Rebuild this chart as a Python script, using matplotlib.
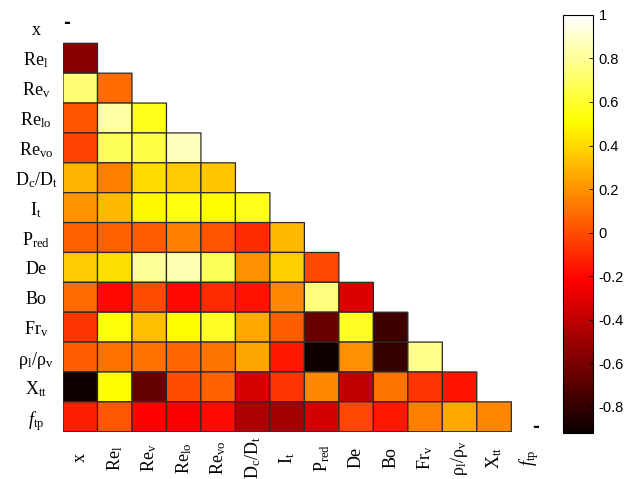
import numpy as np
import matplotlib
matplotlib.use("Agg")
import matplotlib.pyplot as plt
from matplotlib.ticker import FuncFormatter

plt.rcParams['axes.unicode_minus'] = False
plt.rcParams['mathtext.fontset'] = 'custom'
plt.rcParams['mathtext.rm'] = 'Liberation Serif'
plt.rcParams['mathtext.it'] = 'Liberation Serif:italic'
plt.rcParams['font.family'] = ['Liberation Serif', 'DejaVu Serif']

labels = ['x', r'Re$_\mathrm{l}$', r'Re$_\mathrm{v}$', r'Re$_\mathrm{lo}$', r'Re$_\mathrm{vo}$',
          r'D$_\mathrm{c}$/D$_\mathrm{t}$', r'I$_\mathrm{t}$', r'P$_\mathrm{red}$', 'De', 'Bo',
          r'Fr$_\mathrm{v}$', r'ρ$_\mathrm{l}$/ρ$_\mathrm{v}$', r'X$_\mathrm{tt}$', r'$\mathit{f}_\mathrm{tp}$']

# lower-triangle correlation values, row i has i entries (columns 0..i-1)
row_Re_l = [-0.56]
row_Re_v = [0.73, 0.09]
row_Re_lo = [0.02, 0.82, 0.56]
row_Re_vo = [-0.03, 0.68, 0.64, 0.87]
row_DcDt = [0.30, 0.15, 0.41, 0.36, 0.35]
row_It = [0.20, 0.31, 0.49, 0.54, 0.50, 0.56]
row_Pred = [0.06, 0.06, 0.04, 0.15, 0.02, -0.09, 0.31]
row_De = [0.36, 0.42, 0.80, 0.85, 0.68, 0.19, 0.37, -0.02]
row_Bo = [0.09, -0.20, 0.00, -0.20, -0.10, -0.17, 0.16, 0.75, -0.32]
row_Frv = [-0.07, 0.52, 0.33, 0.50, 0.58, 0.26, 0.04, -0.65, 0.58, -0.77]
row_rho = [0.04, 0.10, 0.10, 0.07, 0.11, 0.25, -0.15, -0.90, 0.19, -0.79, 0.77]
row_Xtt = [-0.90, 0.51, -0.66, 0.00, 0.06, -0.33, -0.07, 0.17, -0.40, 0.11, -0.07, -0.17]
row_ftp = [-0.13, 0.03, -0.22, -0.23, -0.19, -0.46, -0.48, -0.35, -0.02, -0.15, 0.15, 0.26, 0.16]

rows = [[], row_Re_l, row_Re_v, row_Re_lo, row_Re_vo, row_DcDt, row_It, row_Pred,
        row_De, row_Bo, row_Frv, row_rho, row_Xtt, row_ftp]

n = len(labels)
M = np.full((n, n), np.nan)
for i, r in enumerate(rows):
    for j, v in enumerate(r):
        M[i, j] = v
Mm = np.ma.masked_invalid(M)

vmin, vmax = -0.92, 1.0

fig = plt.figure(figsize=(6.27, 4.79), dpi=100)
ax = fig.add_axes([0.1005, 0.0987, 0.770, 0.8733])
pc = ax.pcolor(np.arange(n + 1), np.arange(n + 1), Mm, cmap='hot', vmin=vmin, vmax=vmax,
               edgecolors='#2a2a2a', linewidth=0.9)
ax.set_xlim(0, n)
ax.set_ylim(n, 0)
for s in ax.spines.values():
    s.set_visible(False)

ax.set_xticks(np.arange(n) + 0.5)
ax.set_yticks(np.arange(n) + 0.5)
ax.set_xticklabels(labels, rotation=90, va='center', fontsize=13)
ax.set_yticklabels(labels, ha='center', fontsize=13)
ax.tick_params(axis='y', length=0, pad=19.5)
ax.tick_params(axis='x', length=0, pad=18.8)

ax.text(0.11, 0.32, '-', fontsize=12, fontweight='bold', ha='center', va='center',
        family='DejaVu Sans')
ax.text(13.71, 13.83, '-', fontsize=12, fontweight='bold', ha='center', va='center',
        family='DejaVu Sans')

cax = fig.add_axes([0.898, 0.096, 0.048, 0.873])
cb = fig.colorbar(pc, cax=cax)
cb.set_ticks([-0.8, -0.6, -0.4, -0.2, 0, 0.2, 0.4, 0.6, 0.8, 1.0])
cb.ax.yaxis.set_major_formatter(FuncFormatter(lambda v, p: '%g' % round(v, 2)))
cb.ax.tick_params(direction='in', length=3, width=0.6, labelsize=10.5, pad=4)
for t in cb.ax.get_yticklabels():
    t.set_family('Liberation Sans')
cb.outline.set_linewidth(0.8)

fig.savefig('out.png', dpi=100)
